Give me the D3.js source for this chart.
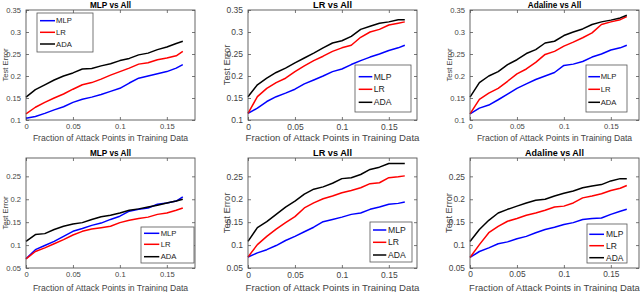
<!DOCTYPE html>
<html><head><meta charset="utf-8">
<script src="https://cdn.jsdelivr.net/npm/d3@7"></script>
<style>
html,body{margin:0;padding:0;background:#fff;}
svg{display:block;font-family:"Liberation Sans",Arial,sans-serif;}
</style></head>
<body><svg id="c" width="640" height="292"></svg>
<script>
// ---- data ----
const xs = [0,0.01,0.02,0.03,0.04,0.05,0.06,0.07,0.08,0.09,0.10,0.11,0.12,0.13,0.14,0.15,0.16,0.167];
const seriesNames = ["MLP","LR","ADA"];
const titles = ["MLP vs All","LR vs All","Adaline vs All","MLP vs All","LR vs All","Adaline vs All"];
const xTicks = [0,0.05,0.1,0.15];
const xTickLabels = ["0","0.05","0.1","0.15"];
const yTicksTop = [0.1,0.15,0.2,0.25,0.3,0.35];
const yTickLabelsTop = ["0.1","0.15","0.2","0.25","0.3","0.35"];
const yTicksBottom = [0.05,0.1,0.15,0.2,0.25];
const yTickLabelsBottom = ["0.05","0.1","0.15","0.2","0.25"];
const xLabel = "Fraction of Attack Points in Training Data";
const yLabel = "Test Error";

const mlp1 = [0.104,0.108,0.115,0.123,0.130,0.140,0.147,0.152,0.158,0.165,0.172,0.184,0.195,0.200,0.205,0.210,0.218,0.226];
const lr1  = [0.114,0.129,0.140,0.150,0.159,0.170,0.180,0.185,0.193,0.202,0.210,0.218,0.227,0.230,0.237,0.241,0.246,0.256];
const ada1 = [0.152,0.169,0.180,0.191,0.200,0.207,0.216,0.217,0.223,0.228,0.235,0.240,0.248,0.252,0.260,0.266,0.274,0.279];

const mlp2 = [0.115,0.127,0.142,0.153,0.161,0.170,0.182,0.191,0.200,0.210,0.216,0.226,0.235,0.243,0.250,0.258,0.264,0.270];
const lr2  = [0.115,0.153,0.172,0.185,0.195,0.210,0.223,0.235,0.245,0.256,0.264,0.270,0.288,0.300,0.306,0.316,0.320,0.323];
const ada2 = [0.153,0.180,0.195,0.208,0.218,0.230,0.241,0.252,0.264,0.275,0.280,0.290,0.306,0.313,0.320,0.323,0.328,0.328];

const mlp3 = [0.114,0.127,0.134,0.146,0.159,0.172,0.182,0.192,0.200,0.208,0.224,0.227,0.233,0.243,0.250,0.259,0.264,0.270];
const lr3  = [0.114,0.147,0.161,0.172,0.188,0.205,0.216,0.231,0.249,0.256,0.268,0.277,0.287,0.298,0.317,0.323,0.328,0.335];
const ada3 = [0.152,0.185,0.200,0.210,0.226,0.237,0.251,0.260,0.275,0.279,0.292,0.300,0.307,0.317,0.323,0.327,0.332,0.338];

const mlp4 = [0.070,0.090,0.099,0.108,0.119,0.130,0.136,0.143,0.148,0.156,0.163,0.174,0.178,0.181,0.189,0.192,0.196,0.205];
const lr4  = [0.070,0.086,0.094,0.103,0.112,0.122,0.130,0.135,0.138,0.141,0.149,0.154,0.158,0.161,0.167,0.170,0.176,0.181];
const ada4 = [0.108,0.123,0.125,0.134,0.141,0.146,0.149,0.156,0.162,0.165,0.170,0.176,0.179,0.183,0.187,0.192,0.196,0.200];

const mlp5 = [0.074,0.083,0.090,0.099,0.110,0.119,0.129,0.139,0.151,0.156,0.161,0.167,0.170,0.178,0.183,0.189,0.191,0.194];
const lr5  = [0.074,0.101,0.119,0.135,0.149,0.162,0.181,0.192,0.201,0.207,0.214,0.219,0.225,0.234,0.236,0.247,0.249,0.251];
const ada5 = [0.108,0.138,0.151,0.167,0.183,0.196,0.211,0.222,0.227,0.235,0.245,0.247,0.254,0.265,0.270,0.278,0.278,0.278];

const mlp6 = [0.073,0.086,0.094,0.103,0.107,0.114,0.119,0.127,0.134,0.139,0.145,0.149,0.156,0.158,0.159,0.167,0.174,0.178];
const lr6  = [0.073,0.101,0.127,0.141,0.152,0.158,0.165,0.170,0.176,0.183,0.185,0.192,0.203,0.207,0.212,0.219,0.224,0.230];
const ada6 = [0.108,0.134,0.154,0.170,0.178,0.185,0.192,0.198,0.200,0.207,0.213,0.218,0.225,0.229,0.232,0.240,0.245,0.245];

const panelData = [[mlp1,lr1,ada1],[mlp2,lr2,ada2],[mlp3,lr3,ada3],[mlp4,lr4,ada4],[mlp5,lr5,ada5],[mlp6,lr6,ada6]];

// ---- layout / style ----
const colors = ["#0000ff","#ff0000","#000000"];
const layout = [
  {l:26, r:195, t:10, b:120, row:0, fs:1.0,  lg:{x0:37, y0:13, x1:93, y1:52, lx0:40, lx1:55, tx:56, ys:[20.7,32.3,44]}},
  {l:248,r:417, t:10, b:120, row:0, fs:1.12, lg:{x0:355,y0:65, x1:411,y1:112,lx0:358.7,lx1:372.3,tx:373.7,ys:[76.7,89.3,102.3]}},
  {l:470,r:639, t:10, b:120, row:0, fs:1.0,  lg:{x0:586,y0:65, x1:627,y1:112,lx0:588.3,lx1:600,tx:600.7,ys:[76.7,89.3,102.3]}},
  {l:26, r:195, t:158,b:268, row:1, fs:1.0,  lg:{x0:141,y0:227,x1:194,y1:263,lx0:144,lx1:159.3,tx:160.7,ys:[233.3,244.3,256.7]}},
  {l:248,r:417, t:158,b:268, row:1, fs:1.12, lg:{x0:370,y0:222,x1:412,y1:262,lx0:373,lx1:386.3,tx:388,ys:[230,242.3,255]}},
  {l:470,r:639, t:158,b:268, row:1, fs:1.1,  lg:{x0:587,y0:224,x1:627,y1:263,lx0:589.3,lx1:604,tx:606,ys:[234.3,245.7,257.7]}}
];
const yDomains = [[0.1,0.35],[0.05,0.29]];
const xLabelOffsets = [20.5, 22.5];
const axisColor = "#555";
const textColor = "#444";

const svg = d3.select("#c");

layout.forEach((p,i)=>{
  const g = svg.append("g");
  const x = d3.scaleLinear().domain([0,0.18]).range([p.l,p.r]);
  const y = d3.scaleLinear().domain(yDomains[p.row]).range([p.b,p.t]);
  const yt = p.row===0 ? yTicksTop : yTicksBottom;
  const ytl = p.row===0 ? yTickLabelsTop : yTickLabelsBottom;
  const tfs = 7.6*p.fs;

  // axes
  const xb = g.append("g").attr("transform",`translate(0,${p.b})`)
    .call(d3.axisBottom(x).tickValues(xTicks).tickSizeInner(-3).tickSizeOuter(0).tickPadding(3.5)
      .tickFormat((d,k)=>xTickLabels[k]));
  const xt = g.append("g").attr("transform",`translate(0,${p.t})`)
    .call(d3.axisTop(x).tickValues(xTicks).tickSizeInner(-3).tickSizeOuter(0).tickFormat(""));
  const yl = g.append("g").attr("transform",`translate(${p.l},0)`)
    .call(d3.axisLeft(y).tickValues(yt).tickSizeInner(-3).tickSizeOuter(0).tickPadding(5)
      .tickFormat((d,k)=>ytl[k]));
  const yr = g.append("g").attr("transform",`translate(${p.r},0)`)
    .call(d3.axisRight(y).tickValues(yt).tickSizeInner(-3).tickSizeOuter(0).tickFormat(""));
  [xb,xt,yl,yr].forEach(a=>{
    a.select(".domain").remove();
    a.selectAll(".tick line").attr("stroke",axisColor).attr("stroke-width",0.8);
    a.selectAll(".tick text").attr("fill",textColor).style("font-size",tfs+"px")
      .style("font-family",'"Liberation Sans",Arial,sans-serif');
  });
  xb.selectAll(".tick text").attr("dy","0.71em");

  // lines
  const line = d3.line().x((d,k)=>x(xs[k])).y(d=>y(d));
  panelData[i].forEach((vals,s)=>{
    g.append("path").datum(vals).attr("d",line).attr("fill","none")
      .attr("stroke",colors[s]).attr("stroke-width",1.5).attr("stroke-linejoin","round");
  });

  // box
  g.append("rect").attr("x",p.l).attr("y",p.t).attr("width",p.r-p.l).attr("height",p.b-p.t)
    .attr("fill","none").attr("stroke",axisColor).attr("stroke-width",0.9);

  // title
  g.append("text").attr("x",(p.l+p.r)/2).attr("y",p.t-2.5).attr("text-anchor","middle")
    .style("font-size",(8.2*p.fs)+"px").style("font-weight","bold").attr("fill","#000").text(titles[i]);
  // x label
  g.append("text").attr("x",(p.l+p.r)/2).attr("y",p.b+xLabelOffsets[p.row]).attr("text-anchor","middle")
    .style("font-size",(8.6*p.fs)+"px").attr("fill",textColor).text(xLabel);
  // y label
  g.append("text").attr("transform",`translate(${p.l-18},${(p.t+p.b)/2}) rotate(-90)`)
    .attr("text-anchor","middle").style("font-size",(7.6*p.fs*(p.fs>1?1.1:1))+"px").attr("fill",textColor).text(yLabel);

  // legend
  const lg = p.lg;
  g.append("rect").attr("x",lg.x0).attr("y",lg.y0).attr("width",lg.x1-lg.x0).attr("height",lg.y1-lg.y0)
    .attr("fill","#fff").attr("stroke",axisColor).attr("stroke-width",0.8);
  seriesNames.forEach((n,s)=>{
    g.append("line").attr("x1",lg.lx0).attr("x2",lg.lx1).attr("y1",lg.ys[s]).attr("y2",lg.ys[s])
      .attr("stroke",colors[s]).attr("stroke-width",1.5);
    g.append("text").attr("x",lg.tx).attr("y",lg.ys[s]).attr("dy","0.35em")
      .style("font-size",(7.7*p.fs)+"px").attr("fill","#222").text(n);
  });
});
</script></body></html>
